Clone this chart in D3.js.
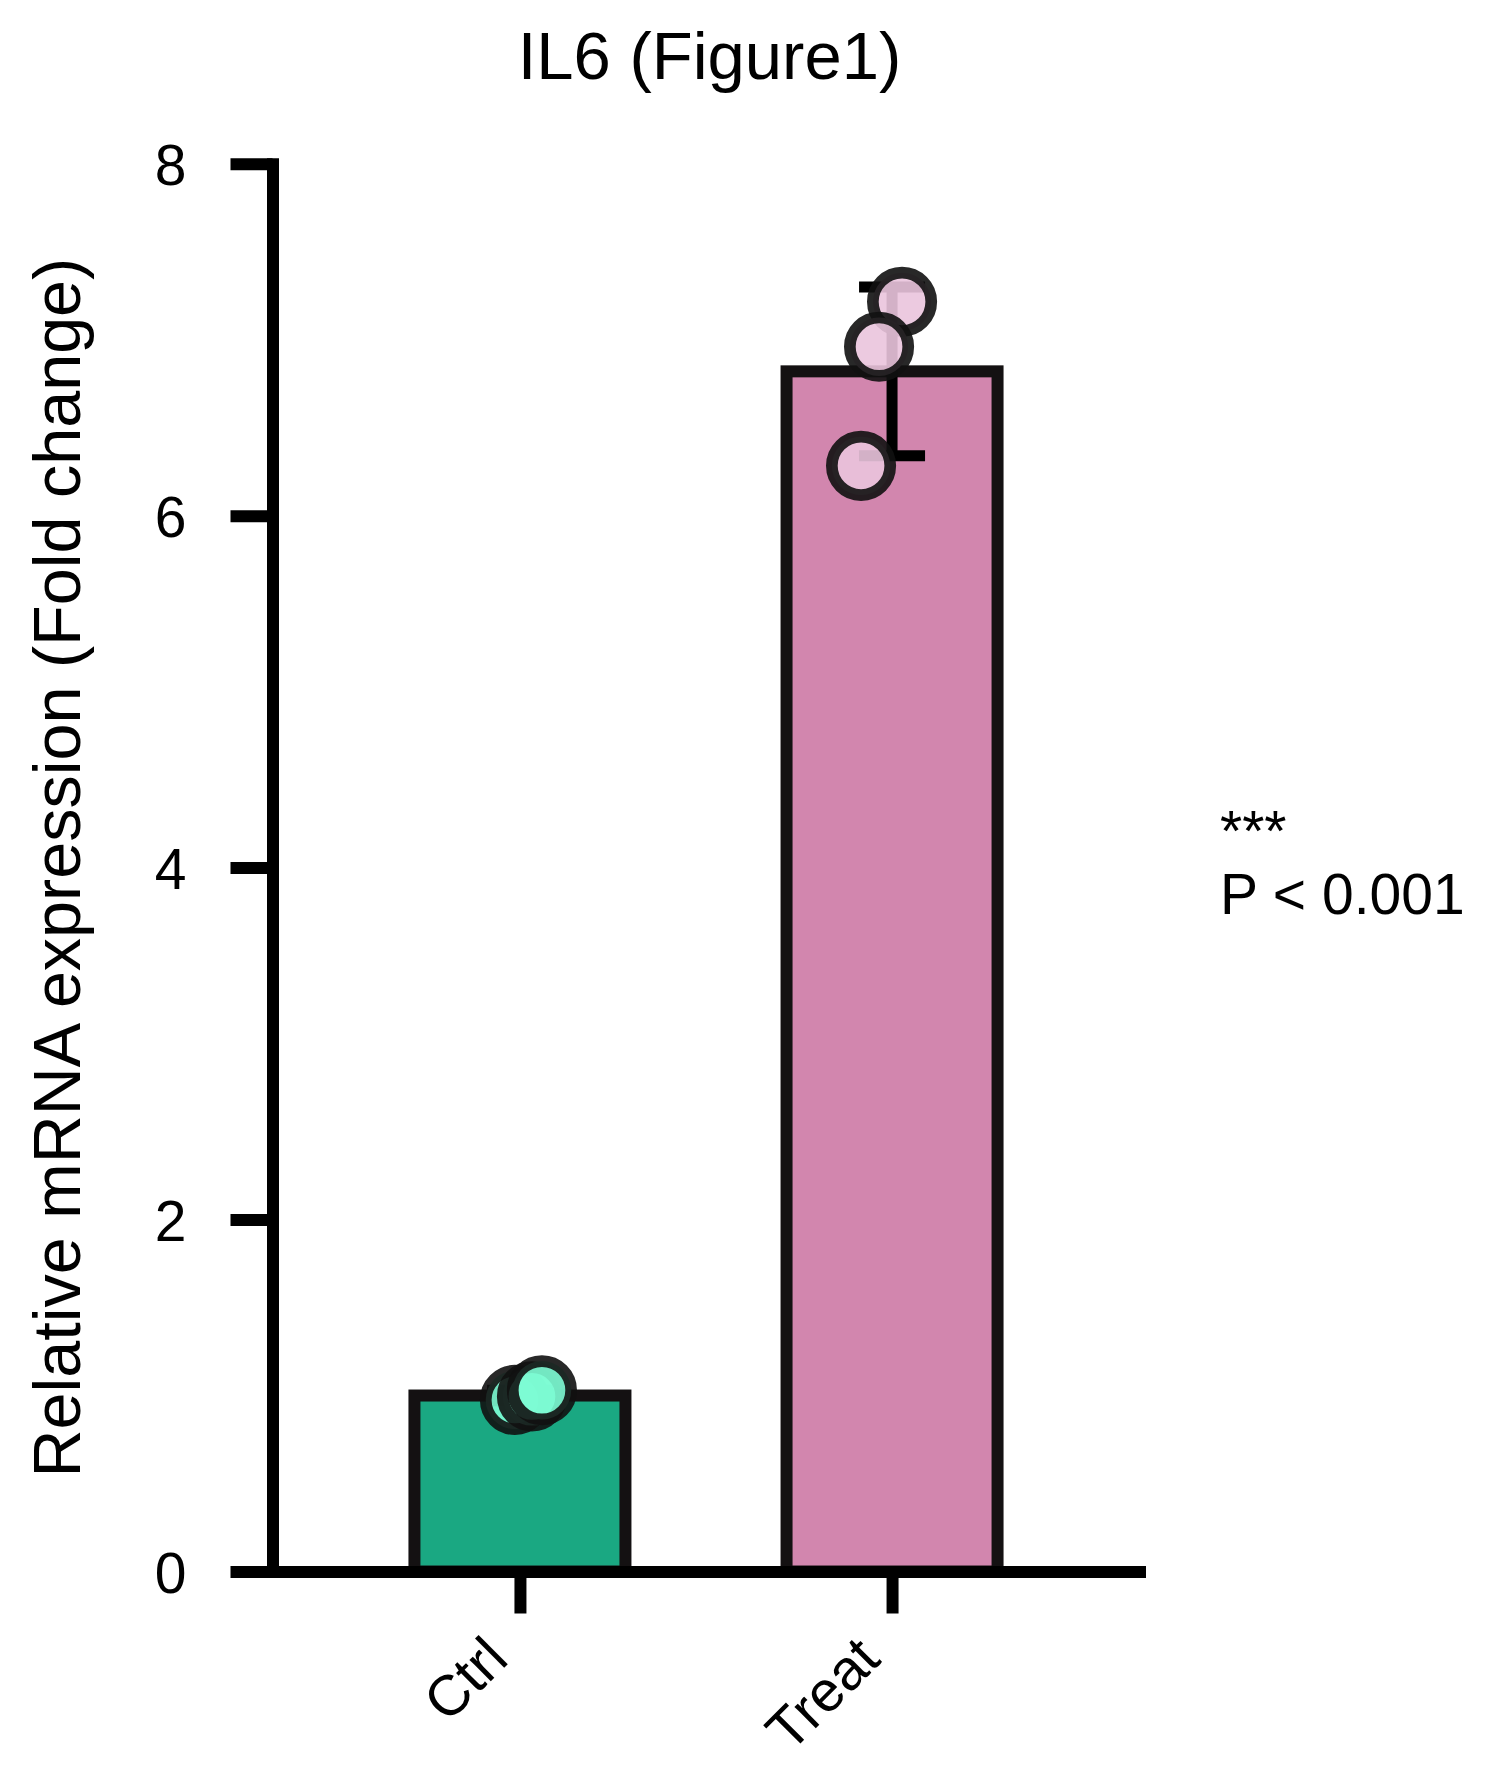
<!DOCTYPE html>
<html lang="en">
    <head>
        <title>IL6 (Figure1)</title>
        <script src="https://d3js.org/d3.v7.min.js"></script>
        <style>
            body { margin: 0; background: #fff; }
            text { font-family: "Liberation Sans", Arial, sans-serif; fill: #000; }
        </style>
    </head>
    <body>

    <div id="mainDiv"></div>

        <script type="text/javascript">
            // data
            const groups = ['Ctrl', 'Treat']
            const means = [1.0, 6.82]
            const sds = [0.03, 0.48]
            const ctrlPoints = [0.975, 0.995, 1.03]
            const treatPoints = [7.215, 6.96, 6.283]
            const jitter = [[-5, 12, 22], [10, -13, -31]] // horizontal spread of the dots, px
            const yTicks = [0, 2, 4, 6, 8]
            const title = 'IL6 (Figure1)'
            const yLabel = 'Relative mRNA expression (Fold change)'
            const note = ['***', 'P < 0.001']

            const barFill = ['#1aa882', '#d286ae']
            const dotFill = ['#7dfcd4', '#eac4dd']

            const width = 1498
            const height = 1790
            const mLeft = 272.5, mRight = 1139.5, mTop = 163.7, mBottom = 1571.5
            const lw = 12

            const svg = d3.select('#mainDiv').append('svg')
                .attr('width', width)
                .attr('height', height)

            const xScale = d3.scalePoint()
                .domain(groups)
                .range([mLeft, mRight])
                .padding(0.665)

            const yScale = d3.scaleLinear()
                .domain([0, 8])
                .range([mBottom, mTop])

            const barW = 211

            // bars
            svg.append('g').selectAll('rect')
                .data(groups)
                .join('rect')
                .attr('x', d => xScale(d) - barW / 2)
                .attr('y', (d, i) => yScale(means[i]))
                .attr('width', barW)
                .attr('height', (d, i) => yScale(0) - yScale(means[i]))
                .attr('fill', (d, i) => barFill[i])
                .attr('stroke', '#141112')
                .attr('stroke-width', lw)

            // error bars (mean +/- sd)
            const err = svg.append('g').attr('stroke', '#000').attr('stroke-width', 11)
            groups.forEach((g, i) => {
                const cx = xScale(g)
                const y0 = yScale(means[i] - sds[i]), y1 = yScale(means[i] + sds[i])
                err.append('line').attr('x1', cx).attr('x2', cx).attr('y1', y0).attr('y2', y1)
                err.append('line').attr('x1', cx - 33).attr('x2', cx + 33).attr('y1', y0).attr('y2', y0)
                err.append('line').attr('x1', cx - 33).attr('x2', cx + 33).attr('y1', y1).attr('y2', y1)
            })

            // individual points
            const pts = [ctrlPoints, treatPoints]
            groups.forEach((g, i) => {
                svg.append('g').selectAll('circle')
                    .data(pts[i])
                    .join('circle')
                    .attr('cx', (d, j) => xScale(g) + jitter[i][j])
                    .attr('cy', d => yScale(d))
                    .attr('r', 29.2)
                    .attr('fill', dotFill[i])
                    .attr('fill-opacity', 0.9)
                    .attr('stroke', '#111')
                    .attr('stroke-opacity', 0.9)
                    .attr('stroke-width', 11.7)
            })

            // axes
            const yAxis = d3.axisLeft(yScale)
                .tickValues(yTicks)
                .tickFormat(d3.format('d'))
                .tickSize(42)
                .tickSizeOuter(0)
                .tickPadding(44)
            const gy = svg.append('g')
                .attr('transform', `translate(${mLeft},0)`)
                .call(yAxis)
            gy.select('.domain').attr('stroke-width', lw).attr('stroke-linecap', 'square')
            gy.selectAll('.tick line').attr('stroke-width', lw)
            gy.selectAll('.tick text').attr('font-size', 57).attr('dy', '0.36em')
                .style('font-family', '"Liberation Sans", Arial, sans-serif')

            const xAxis = d3.axisBottom(xScale)
                .tickSize(42)
                .tickSizeOuter(0)
            const gx = svg.append('g')
                .attr('transform', `translate(0,${mBottom})`)
                .call(xAxis)
            gx.select('.domain').attr('stroke-width', lw).attr('stroke-linecap', 'square')
            gx.selectAll('.tick line').attr('stroke-width', lw)
            gx.selectAll('.tick text')
                .attr('font-size', 57)
                .attr('text-anchor', 'end')
                .attr('y', 0).attr('dy', 0)
                .attr('transform', 'translate(-10,90) rotate(-45)')
                .style('font-family', '"Liberation Sans", Arial, sans-serif')

            // texts
            svg.append('text')
                .attr('x', (mLeft + mRight + 7) / 2)
                .attr('y', 79)
                .attr('text-anchor', 'middle')
                .attr('font-size', 67)
                .text(title)

            svg.append('text')
                .attr('transform', `translate(80,${(mTop + mBottom) / 2}) rotate(-90)`)
                .attr('text-anchor', 'middle')
                .attr('font-size', 66.5)
                .text(yLabel)

            svg.append('text')
                .attr('x', 1220)
                .attr('y', 851)
                .attr('font-size', 57)
                .text(note[0])
            svg.append('text')
                .attr('x', 1220)
                .attr('y', 914)
                .attr('font-size', 57)
                .text(note[1])
        </script>
    </body>
</html>
